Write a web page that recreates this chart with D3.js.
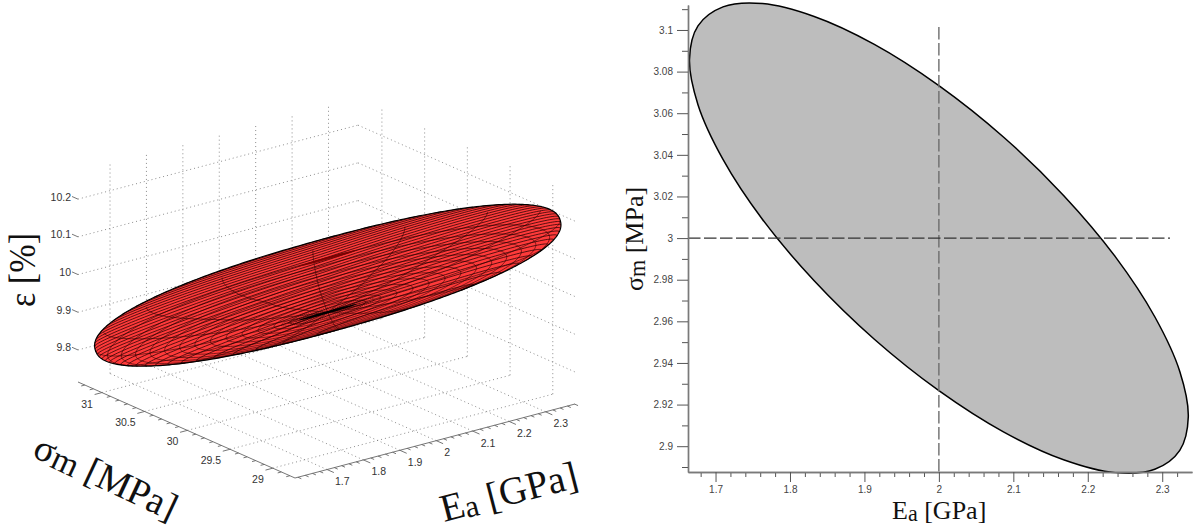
<!DOCTYPE html>
<html><head><meta charset="utf-8">
<script src="https://cdn.jsdelivr.net/npm/d3@7"></script>
<style>html,body{margin:0;padding:0;background:#fff}svg{display:block}text{font-family:"Liberation Sans",sans-serif}.serif{font-family:"Liberation Serif",serif;fill:#111}</style>
</head><body><svg id="c" width="1194" height="529"></svg>
<script>
// ---- left panel: axis data
const box3dE=[1.612,2.381], box3dS=[28.74,31.28], box3dZ=[9.715,10.272];
const ticksE3d=[1.7,1.8,1.9,2,2.1,2.2,2.3];
const ticksS3d=[29,29.5,30,30.5,31];
const ticksZ3d=[9.8,9.9,10,10.1,10.2];
const minorsE3d=[1.62,1.64,1.66,1.68,1.72,1.74,1.76,1.78,1.82,1.84,1.86,1.88,1.92,1.94,1.96,1.98,2.02,2.04,2.06,2.08,2.12,2.14,2.16,2.18,2.22,2.24,2.26,2.28,2.32,2.34,2.36,2.38];
const minorsS3d=[28.8,28.9,29.1,29.2,29.3,29.4,29.6,29.7,29.8,29.9,30.1,30.2,30.3,30.4,30.6,30.7,30.8,30.9,31.1,31.2];
// ellipsoid: centre, half ranges (E, sigma, eps), correlations
const ellCentre=[2,30.01,10];
const ellHalf=[0.39,1.29,0.285];
const ellCorr=[-0.70,0.368,-0.918]; // E-s, E-z, s-z
// ---- right panel: data
const outlineE=[2.335,2.3236,2.290,2.2369,2.1675,2.0867,2.000,1.9133,1.8325,1.7631,1.710,1.6764,1.665,1.6764,1.710,1.7631,1.8325,1.9133,2.000,2.0867,2.1675,2.2369,2.290,2.3236];
const outlineS=[2.914,2.9359,2.9622,2.9911,3.0205,3.0486,3.0733,3.0931,3.1065,3.1127,3.1111,3.1020,3.0860,3.0641,3.0378,3.0089,2.9795,2.9514,2.9267,2.9069,2.8935,2.8873,2.8889,2.8980];
const ticksX=[1.7,1.8,1.9,2,2.1,2.2,2.3];
const minorsX=[1.68,1.72,1.74,1.76,1.78,1.82,1.84,1.86,1.88,1.92,1.94,1.96,1.98,2.02,2.04,2.06,2.08,2.12,2.14,2.16,2.18,2.22,2.24,2.26,2.28,2.32];
const ticksY=[2.9,2.92,2.94,2.96,2.98,3,3.02,3.04,3.06,3.08,3.1];
const minorsY=[2.89,2.91,2.93,2.95,2.97,2.99,3.01,3.03,3.05,3.07,3.09,3.11];
const nominalE=2, nominalS=3;

const svg=d3.select("#c");
const g3=svg.append("g"), g2=svg.append("g");

// ---------- 3D projection built from linear scales
const OX=295,OY=478;
const eX=d3.scaleLinear().domain(box3dE).range([0,280]);
const eY=d3.scaleLinear().domain(box3dE).range([0,-74]);
const sX=d3.scaleLinear().domain(box3dS).range([0,-217]);
const sY=d3.scaleLinear().domain(box3dS).range([0,-96]);
const zY=d3.scaleLinear().domain(box3dZ).range([0,-210]);
const proj=(E,s,z)=>[OX+eX(E)+sX(s),OY+eY(E)+sY(s)+zY(z)];
const lineP=d3.line();
const seg=(a,b)=>lineP([proj(...a),proj(...b)]);
const [Emin,Emax]=box3dE,[Smin,Smax]=box3dS,[Zmin,Zmax]=box3dZ;

// grid
const grid=g3.append("g").attr("fill","none").attr("stroke","#707070").attr("stroke-width",0.8).attr("stroke-dasharray","1 3");
const gl=(a,b)=>grid.append("path").attr("d",seg(a,b));
ticksE3d.forEach(e=>{gl([e,Smin,Zmin],[e,Smax,Zmin]);gl([e,Smax,Zmin],[e,Smax,Zmax]);});
ticksS3d.forEach(s=>{gl([Emin,s,Zmin],[Emax,s,Zmin]);gl([Emax,s,Zmin],[Emax,s,Zmax]);});
ticksZ3d.forEach(z=>{gl([Emin,Smax,z],[Emax,Smax,z]);gl([Emax,Smax,z],[Emax,Smin,z]);});

// axes
const ax=g3.append("g").attr("fill","none").attr("stroke","#666").attr("stroke-width",0.9);
const al=(a,b)=>ax.append("path").attr("d",seg(a,b));
al([Emin,Smin,Zmin],[Emin,Smax,Zmin]);
al([Emin,Smin,Zmin],[Emax,Smin,Zmin]);
ticksS3d.forEach(s=>al([Emin,s,Zmin],[Emin-0.02,s,Zmin]));
minorsS3d.forEach(s=>al([Emin,s,Zmin],[Emin-0.01,s,Zmin]));
ticksE3d.forEach(e=>al([e,Smin,Zmin],[e,Smin-0.08,Zmin]));
minorsE3d.forEach(e=>al([e,Smin,Zmin],[e,Smin-0.04,Zmin]));
ticksZ3d.forEach(z=>al([Emin,Smax,z],[Emin,Smax+0.07,z]));
const lab=g3.append("g").attr("font-size",10.5).attr("fill","#333");
ticksS3d.forEach(s=>{const p=proj(Emin,s,Zmin);lab.append("text").attr("x",p[0]-9).attr("y",p[1]+15).attr("text-anchor","end").text(s);});
ticksE3d.forEach(e=>{const p=proj(e,Smin,Zmin);lab.append("text").attr("x",p[0]+8).attr("y",p[1]+15.5).text(e);});
ticksZ3d.forEach(z=>{const p=proj(Emin,Smax,z);lab.append("text").attr("x",p[0]-7).attr("y",p[1]+1.5).attr("text-anchor","end").text(z);});

// ---------- ellipsoid
const [rES,rEZ,rSZ]=ellCorr;
const L11=1,L21=rES,L31=rEZ,L22=Math.sqrt(1-L21*L21),L32=(rSZ-L31*L21)/L22,L33=Math.sqrt(Math.max(1e-4,1-L31*L31-L32*L32));
const A=[[L11*ellHalf[0],0,0],[L21*ellHalf[1],L22*ellHalf[1],0],[L31*ellHalf[2],L32*ellHalf[2],L33*ellHalf[2]]];
const toData=u=>ellCentre.map((c,i)=>c+A[i][0]*u[0]+A[i][1]*u[1]+A[i][2]*u[2]);
const ptRaw=u=>proj(...toData(u));
const c0=proj(...ellCentre);
const S=[[0,0,0],[0,0,0]];
[0,1,2].forEach(k=>{const u=[0,0,0];u[k]=1;const p=ptRaw(u);S[0][k]=p[0]-c0[0];S[1][k]=p[1]-c0[1];});
const dot=(a,b)=>a[0]*b[0]+a[1]*b[1]+a[2]*b[2];
const a_=dot(S[0],S[0]),b_=dot(S[0],S[1]),c_=dot(S[1],S[1]);
const th=0.5*Math.atan2(2*b_,a_-c_);
const y1=[Math.cos(th),Math.sin(th)],y2=[-Math.sin(th),Math.cos(th)];
const sg=y=>Math.sqrt(y[0]*y[0]*a_+2*y[0]*y[1]*b_+y[1]*y[1]*c_);
const s1=sg(y1),s2=sg(y2);
const e1=[0,1,2].map(k=>(S[0][k]*y1[0]+S[1][k]*y1[1])/s1);
const e2=[0,1,2].map(k=>(S[0][k]*y2[0]+S[1][k]*y2[1])/s2);
const e3=[e1[1]*e2[2]-e1[2]*e2[1],e1[2]*e2[0]-e1[0]*e2[2],e1[0]*e2[1]-e1[1]*e2[0]];
const comb=(a,b,c)=>[0,1,2].map(k=>a*e1[k]+b*e2[k]+c*e3[k]);
// blunt tips: the reference outline is slightly fuller than a true ellipse
const blunt=2.25;
const pt=u=>{const q1=dot(u,e1),q2=dot(u,e2),r=Math.hypot(q1,q2);
 if(r<1e-9) return ptRaw(u);
 const f=r/Math.pow(Math.pow(Math.abs(q1),blunt)+Math.pow(Math.abs(q2),blunt),1/blunt);
 return ptRaw(comb(q1*f,q2*f,0));};
const frontLine=d3.line().defined(d=>d.vis).x(d=>d.p[0]).y(d=>d.p[1]);
const sample=(fn,n,a0,a1)=>d3.range(n+1).map(i=>{const t=a0+(a1-a0)*i/n;const u=fn(t);return{vis:dot(u,e3)>=-1e-9,p:pt(u)};});
const cross=(a,b)=>[a[1]*b[2]-a[2]*b[1],a[2]*b[0]-a[0]*b[2],a[0]*b[1]-a[1]*b[0]];
const norm=a=>{const l=Math.sqrt(dot(a,a));return a.map(v=>v/l);};

const el=g3.append("g").attr("fill","none");
// silhouette
const sil=d3.range(361).map(i=>{const t=i/360*2*Math.PI;return pt(comb(Math.cos(t),Math.sin(t),0));});
el.append("path").attr("d",d3.line()(sil)+"Z").attr("fill","#ff3a3a");

// stripes: nearly parallel slices of the surface, cut along its length
const tau=0.25,bow=0.22;
const slN=comb(Math.sin(tau),Math.cos(tau)*Math.cos(bow),Math.cos(tau)*Math.sin(bow));
const slT1=norm(cross(slN,e3)),slT2=cross(slN,slT1);
const stripes=el.append("g").attr("stroke","#1c0000").attr("stroke-width",0.95).attr("stroke-opacity",0.78);
d3.range(-0.98,0.99,0.06).forEach(h=>{const r=Math.sqrt(1-h*h);
 const fn=f=>[0,1,2].map(k=>h*slN[k]+r*(Math.cos(f)*slT1[k]+Math.sin(f)*slT2[k]));
 stripes.append("path").attr("d",frontLine(sample(fn,180,0,2*Math.PI)));
});

// coarse rings and fan around the visible mesh pole
const off=[0,27];
const p1=(off[0]*y1[0]+off[1]*y1[1])/s1,p2=(off[0]*y2[0]+off[1]*y2[1])/s2;
const pole=comb(p1,p2,Math.sqrt(1-p1*p1-p2*p2));
const ringBasis=p=>{const t1=norm(cross(p,e2));const t2=cross(p,t1);return[t1,t2];};
const ring=(p,ang)=>{const[t1,t2]=ringBasis(p);return f=>[0,1,2].map(k=>Math.cos(ang)*p[k]+Math.sin(ang)*(Math.cos(f)*t1[k]+Math.sin(f)*t2[k]));};
const coarse=el.append("g").attr("stroke","#300000").attr("stroke-width",0.8).attr("stroke-opacity",0.75);
d3.range(0.16,0.97,0.065).forEach(r=>{coarse.append("path").attr("d",frontLine(sample(ring(pole,Math.asin(r)),240,0,2*Math.PI)));});
const[ft1,ft2]=ringBasis(pole);
d3.range(0,360,22.5).forEach(fd=>{const f=fd*Math.PI/180;
 const fn=a=>[0,1,2].map(k=>Math.cos(a)*pole[k]+Math.sin(a)*(Math.cos(f)*ft1[k]+Math.sin(f)*ft2[k]));
 coarse.append("path").attr("d",frontLine(sample(fn,60,0,Math.PI/2)));
});
// dark streaks at the two mesh poles: thin lenses along the long axis
const lens=(cq1,cq2,rq1,rq2)=>{const pts=d3.range(61).map(i=>{const t=i/60*2*Math.PI;const a=cq1+rq1*Math.cos(t),b=cq2+rq2*Math.sin(t);return ptRaw(comb(a,b,Math.sqrt(Math.max(0,1-a*a-b*b))));});return d3.line()(pts)+"Z";};
const streak=el.append("g");
[[0.2,0.1],[0.17,0.07],[0.14,0.045]].forEach(r=>streak.append("path").attr("d",lens(p1,p2,r[0],r[1])).attr("stroke","#000").attr("stroke-width",0.5).attr("stroke-dasharray","1.2 1").attr("stroke-opacity",0.8));
streak.append("path").attr("d",lens(p1,p2,0.125,0.028)).attr("fill","#000");
streak.append("path").attr("d",lens(-p1,-p2,0.125,0.028)).attr("fill","#7a0000").attr("fill-opacity",0.9);
// outline
el.append("path").attr("d",d3.line()(sil)+"Z").attr("stroke","#000").attr("stroke-width",1.2);

// left titles
const title=(parent,x,y,rot,size,parts,len)=>{
 const t=parent.append("text").attr("class","serif").attr("transform",`translate(${x},${y}) rotate(${rot})`).attr("font-size",size);
 if(len) t.attr("textLength",len).attr("lengthAdjust","spacingAndGlyphs");
 parts.forEach(p=>t.append("tspan").attr("dy",p.dy||0).attr("font-size",p.fs||null).text(p.t));
 return t;};
title(g3,35,307,-90,38,[{t:"ε [%]"}],74);
title(g3,31,456,25,38,[{t:"σ"},{t:"m",fs:"0.9em",dy:2},{t:" [MPa]",dy:-2}]);
title(g3,444,522,-14.5,39,[{t:"E"},{t:"a",fs:"0.8em",dy:2},{t:" [GPa]",dy:-2}]);

// ---------- right panel
const x=d3.scaleLinear().domain([1.663,2.34]).range([688,1192]);
const y=d3.scaleLinear().domain([2.8876,3.112]).range([472,5]);
const poly=outlineE.map((e,i)=>[e,outlineS[i]]);
const outline=d3.line().x(d=>x(d[0])).y(d=>y(d[1])).curve(d3.curveCatmullRomClosed.alpha(0.5));
g2.append("path").attr("d",outline(poly)).attr("fill","#bdbdbd").attr("stroke","#000").attr("stroke-width",1.5);
g2.append("line").attr("x1",x(nominalE)).attr("x2",x(nominalE)).attr("y1",27).attr("y2",y.range()[0]).attr("stroke","#6e6e6e").attr("stroke-width",1.4).attr("stroke-dasharray","12.5 3.5");
g2.append("line").attr("x1",x.range()[0]).attr("x2",1170).attr("y1",y(nominalS)).attr("y2",y(nominalS)).attr("stroke","#333").attr("stroke-width",1.1).attr("stroke-dasharray","12.5 3.5");
const style=g=>{g.selectAll(".domain").attr("stroke","#7a7a7a").attr("stroke-width",1.4);g.selectAll("line").attr("stroke","#555");g.selectAll("text").attr("font-size",10).attr("fill","#444").attr("font-family","Liberation Sans");};
g2.append("g").attr("transform",`translate(0,${y.range()[0]})`).call(d3.axisBottom(x).tickValues(minorsX).tickSize(5).tickSizeOuter(0).tickFormat("")).call(style);
g2.append("g").attr("transform",`translate(0,${y.range()[0]})`).call(d3.axisBottom(x).tickValues(ticksX).tickSize(10).tickSizeOuter(0).tickPadding(4).tickFormat(d=>d)).call(style);
g2.append("g").attr("transform",`translate(${x.range()[0]},0)`).call(d3.axisLeft(y).tickValues(minorsY).tickSize(6).tickSizeOuter(0).tickFormat("")).call(style);
g2.append("g").attr("transform",`translate(${x.range()[0]},0)`).call(d3.axisLeft(y).tickValues(ticksY).tickSize(11).tickSizeOuter(0).tickPadding(4).tickFormat(d=>d)).call(style);
title(g2,892,519,0,26,[{t:"E"},{t:"a",fs:"0.85em",dy:2},{t:" [GPa]",dy:-2}]);
title(g2,643,291,-90,26,[{t:"σ"},{t:"m",fs:"0.85em",dy:2},{t:" [MPa]",dy:-2}]);
</script></body></html>
